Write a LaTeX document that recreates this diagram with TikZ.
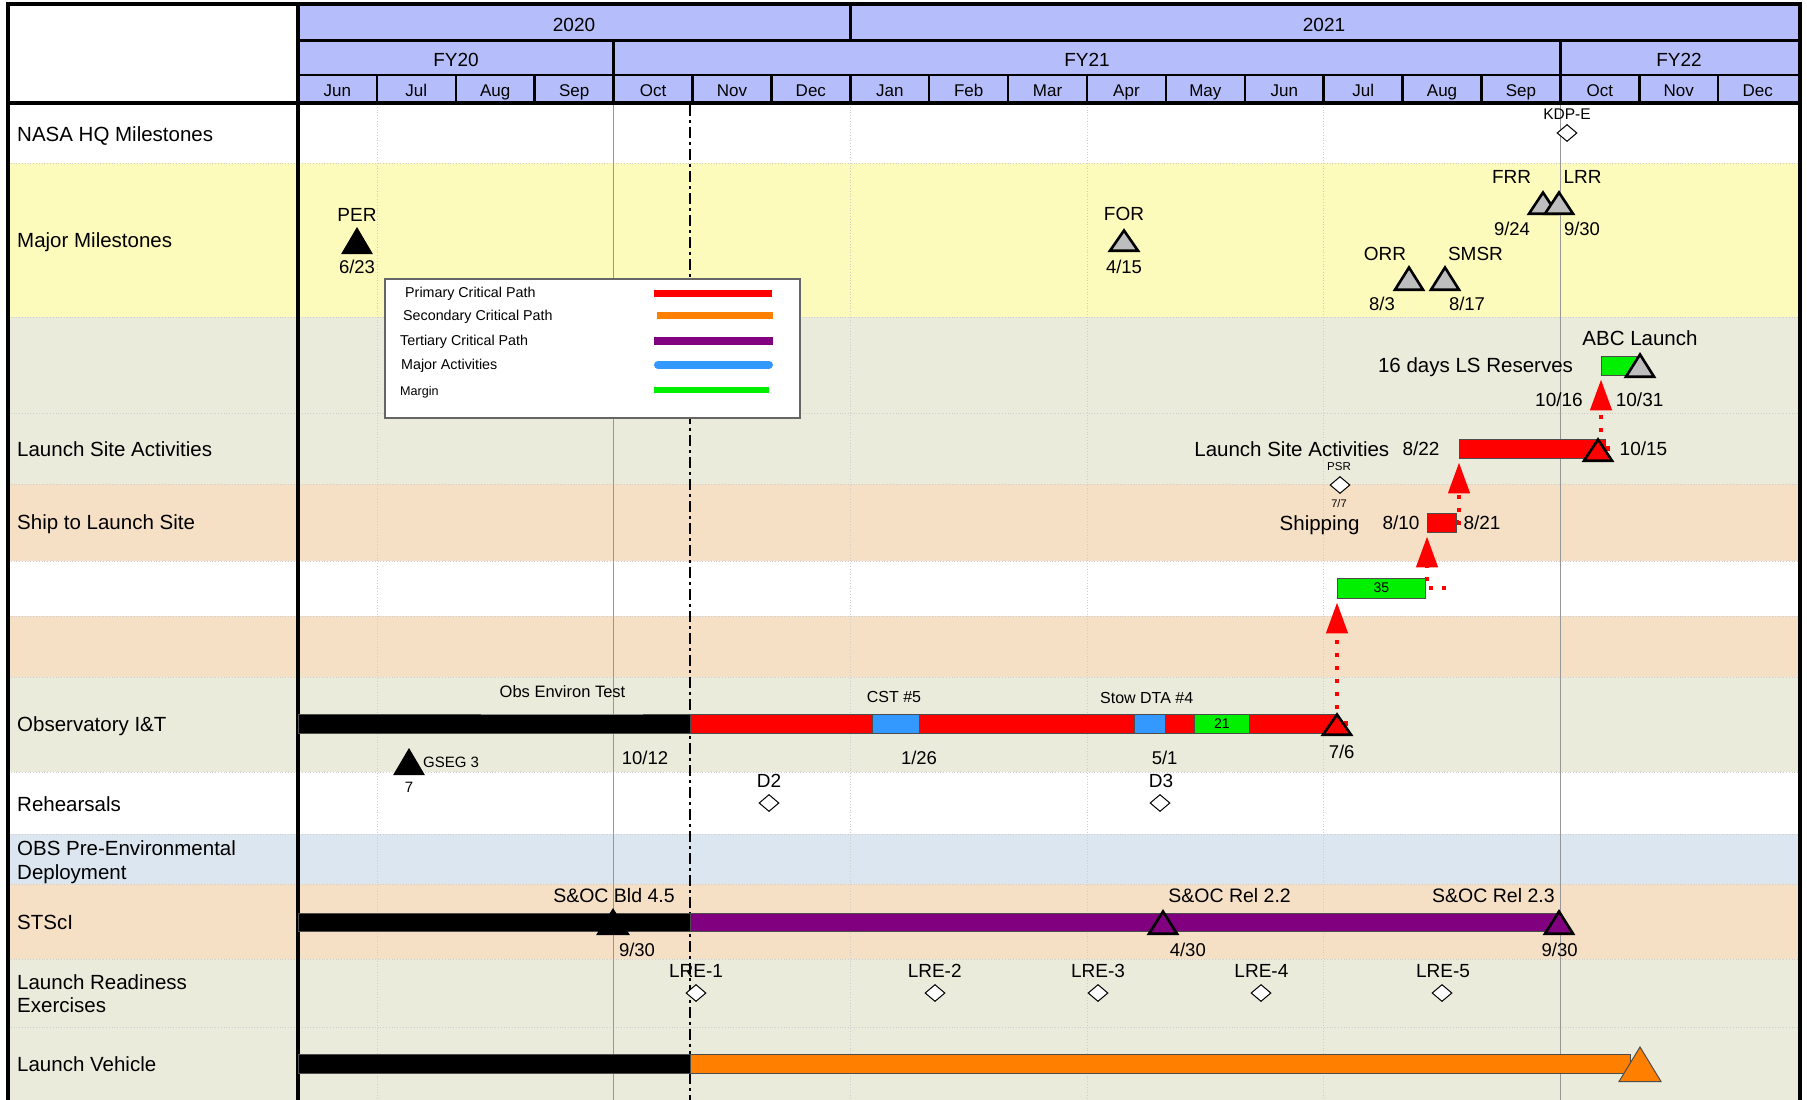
\documentclass[tikz,border=0pt]{standalone}
\usepackage{fontspec}
\setmainfont{Liberation Sans}
\usetikzlibrary{arrows.meta,shapes.geometric}
\definecolor{hdr}{RGB}{181,190,250}
\definecolor{rowyel}{RGB}{253,251,187}
\definecolor{rowgry}{RGB}{235,235,220}
\definecolor{rowpch}{RGB}{245,224,198}
\definecolor{rowblu}{RGB}{220,230,240}
\definecolor{cpred}{RGB}{255,0,0}
\definecolor{cporg}{RGB}{255,128,0}
\definecolor{cppur}{RGB}{128,0,128}
\definecolor{actblu}{RGB}{51,153,255}
\definecolor{mgrn}{RGB}{0,240,0}
\definecolor{msgry}{RGB}{190,190,190}
\definecolor{gridln}{RGB}{150,150,150}
\definecolor{gridlt}{RGB}{205,205,205}
% name, x, apex y, base y, half width, style
\newcommand\msTri[6]{%
  \path[#6] (#2,#3) -- ({#2+#5},#4) -- ({#2-#5},#4) -- cycle;
  \coordinate (#1) at (#2,{(#3+#4)/2});}
\begin{document}
\begin{tikzpicture}[x=1pt,y=-1pt,
  lab/.style={anchor=base,inner sep=0pt,font=\fontsize{#1}{#1}\selectfont,yshift={-0.358*#1}},
  labw/.style={lab=#1,anchor=base west},
  rowsep/.style={gridlt,dotted,line width=0.8pt},
  hline/.style={black,line width=2.5pt},
  today/.style={black,line width=2.5pt,dash pattern=on 11pt off 4pt on 3pt off 4pt},
  barbox/.style={draw=black!70,line width=0.8pt,inner sep=0pt,anchor=west,minimum height=19pt},
  dia/.style={diamond,draw=black,fill=white,line width=1pt,minimum width=20pt,minimum height=17pt,inner sep=0pt},
  crit/.style={cpred,line width=4.5pt,dash pattern=on 4pt off 9pt,-{Triangle[width=21pt,length=31pt]},shorten >=4pt},
  trig/.style={fill=msgry,draw=black,line width=2.6pt},
  trib/.style={fill=black,draw=black,line width=1pt},
  trir/.style={fill=cpred,draw=black,line width=2.6pt},
  trip/.style={fill=cppur,draw=black,line width=2.6pt},
  trio/.style={fill=cporg,draw=black!70,line width=1pt}]
\useasboundingbox (0,0) rectangle (1807,1100);
\fill[white] (0,0) rectangle (1807,1100);
% row backgrounds
\foreach \ya/\yb/\cl in {104/163/white,163/317/rowyel,317/413/rowgry,413/484/rowgry,484/561/rowpch,561/616/white,616/677/rowpch,677/772/rowgry,772/834/white,834/884/rowblu,884/959/rowpch,959/1027/rowgry,1027/1100/rowgry}
  {\fill[\cl] (8,\ya) rectangle (1800,\yb);}
\foreach \ya in {163,317,413,484,561,616,677,772,834,884,959,1027}
  {\draw[rowsep] (8,\ya) -- (1800,\ya);}
% quarter lines
\foreach \i in {1,7,10,13}{\draw[gridlt,dotted,line width=0.8pt] ({298+78.9*\i},104) -- ({298+78.9*\i},1100);}
\foreach \i in {4,16}{\draw[gridln,line width=1pt] ({298+78.9*\i},104) -- ({298+78.9*\i},1100);}
% header
\fill[hdr] (298,4) rectangle (1800,103);
\fill[white] (8,4) rectangle (298,103);
\foreach \i in {1,...,18}{\draw[hline] ({298+78.9*\i},75) -- ({298+78.9*\i},103);}
\draw[hline] ({298+78.9*4},40) -- ({298+78.9*4},75);
\draw[hline] ({298+78.9*16},40) -- ({298+78.9*16},75);
\draw[hline] ({298+78.9*7},4) -- ({298+78.9*7},40);
\draw[black,line width=3pt] (298,40) -- (1800,40);
\draw[hline] (298,75) -- (1800,75);
\draw[black,line width=4pt] (8,103) -- (1800,103);
\draw[black,line width=4pt] (298,3) -- (298,1102);
\draw[black,line width=4pt] (8,1102) -- (8,3.5) -- (1800,3.5) -- (1800,1102);
\node[lab=19] (y2020) at (574,24.5) {2020};
\node[lab=19] (y2021) at (1324,24.5) {2021};
\node[lab=19] (fy20) at (456,59.5) {FY20};
\node[lab=19] (fy21) at (1087,59.5) {FY21};
\node[lab=19] (fy22) at (1679,59.5) {FY22};
\foreach \m [count=\i from 0] in {Jun,Jul,Aug,Sep,Oct,Nov,Dec,Jan,Feb,Mar,Apr,May,Jun,Jul,Aug,Sep,Oct,Nov,Dec}
  {\node[lab=17] (mon\i) at ({298+78.9*(\i+0.5)},90.5) {\m};}
% row labels
\node[labw=20.5] (rl1) at (17,134) {NASA HQ Milestones};
\node[labw=20.5] (rl2) at (17,240.5) {Major Milestones};
\node[labw=20.5] (rl3) at (17,449) {Launch Site Activities};
\node[labw=20.5] (rl4) at (17,522.5) {Ship to Launch Site};
\node[labw=20.5] (rl5) at (17,724) {Observatory I\&T};
\node[labw=20.5] (rl6) at (17,803.7) {Rehearsals};
\node[labw=20.5] (rl7a) at (17,848.3) {OBS Pre-Environmental};
\node[labw=20.5] (rl7b) at (17,871.7) {Deployment};
\node[labw=20.5] (rl8) at (17,922) {STScI};
\node[labw=20.5] (rl9a) at (17,981.7) {Launch Readiness};
\node[labw=20.5] (rl9b) at (17,1005) {Exercises};
\node[labw=20.5] (rl10) at (17,1064) {Launch Vehicle};
% today line
\draw[today] (690,105) -- (690,1100);
% bars
\node[barbox,fill=black,minimum width=392pt] (obsBlk) at (298,723.5) {};
\draw[black!45,line width=1pt] (481,714.3) -- (643,714.3);
\node[barbox,fill=cpred,minimum width=647pt] (obsRed) at (690,723.5) {};
\node[barbox,fill=actblu,minimum width=47pt] (cst5) at (872,723.5) {};
\node[barbox,fill=actblu,minimum width=31pt] (stow4) at (1134,723.5) {};
\node[barbox,fill=mgrn,minimum width=55pt,font=\fontsize{14}{14}\selectfont] (m21) at (1194,723.5) {21};
\node[barbox,fill=black,minimum width=392pt,minimum height=18pt] (stsBlk) at (298,922) {};
\node[barbox,fill=cppur,minimum width=869pt,minimum height=18pt] (stsPur) at (690,922) {};
\node[barbox,fill=black,minimum width=392pt] (lvBlk) at (298,1063.5) {};
\node[barbox,fill=cporg,minimum width=940pt] (lvOrg) at (690,1063.5) {};
\node[barbox,fill=cpred,minimum width=146pt] (lsaBar) at (1459,448.5) {};
\node[barbox,fill=cpred,minimum width=29pt] (shipBox) at (1427,522.5) {};
\node[barbox,fill=mgrn,minimum width=88pt,minimum height=20pt,font=\fontsize{14}{14}\selectfont] (m35) at (1337,588) {35};
\node[barbox,fill=mgrn,minimum width=35pt] (resBox) at (1601,365.5) {};
% connectors (critical path)
\coordinate (obsEnd) at (1337,723.5);
\coordinate (lsaEnd) at (1598,448.5);
\draw[crit] ([xshift=11pt]obsEnd) -- (obsEnd) -- (obsEnd |- m35.south);
\draw[crit] ([xshift=20pt]m35.east) -- (m35.east -| shipBox.south west) -- (shipBox.south west);
\draw[crit] (shipBox.east) -- (shipBox.east -| lsaBar.south west) -- (lsaBar.south west);
\draw[crit] ([xshift=12pt]lsaEnd) -- (lsaEnd -| resBox.south west) -- (resBox.south west);
% milestone triangles
\msTri{tPER}{357}{228}{253.5}{15}{trib}
\msTri{tFOR}{1124}{230.5}{250.7}{14}{trig}
\msTri{tORR}{1409}{267.5}{289.7}{14}{trig}
\msTri{tSMSR}{1445}{267.5}{289.7}{14}{trig}
\msTri{tFRR}{1543}{192.5}{213.7}{14}{trig}
\msTri{tLRR}{1559}{192.5}{213.7}{14}{trig}
\msTri{tABC}{1640}{354.5}{376.7}{14}{trig}
\msTri{tLSA}{1598}{439.5}{460.7}{14}{trir}
\msTri{tObs}{1337}{714.5}{734.7}{14}{trir}
\msTri{tGSEG}{409}{749}{774.5}{15}{trib}
\msTri{tBld}{613}{909}{934.5}{16}{trib}
\msTri{tRel22}{1163}{911.5}{933.7}{14}{trip}
\msTri{tRel23}{1559}{911.5}{933.7}{14}{trip}
\msTri{tLV}{1640}{1047}{1081.5}{21}{trio}
% diamonds
\node[dia] (dKDP) at (1567,133) {};
\node[dia] (dPSR) at (1340,485) {};
\node[dia] (dD2) at (769,803) {};
\node[dia] (dD3) at (1160,803) {};
\node[dia] (dL1) at (696,993) {};
\node[dia] (dL2) at (935,993) {};
\node[dia] (dL3) at (1098,993) {};
\node[dia] (dL4) at (1261,993) {};
\node[dia] (dL5) at (1442,993) {};
% milestone labels
\node[lab=15.5] (lKDP) at (1567,113.7) {KDP-E};
\node[lab=19] (lPER) at (357,215) {PER};
\node[lab=18.5] (dtPER) at (357,266.7) {6/23};
\node[lab=19] (lFOR) at (1124,213.3) {FOR};
\node[lab=18.5] (dtFOR) at (1124,267) {4/15};
\node[lab=19] (lORR) at (1385,253.3) {ORR};
\node[lab=18.5] (dtORR) at (1382,304) {8/3};
\node[lab=19] (lSMSR) at (1475.5,253.3) {SMSR};
\node[lab=18.5] (dtSMSR) at (1467,304) {8/17};
\node[lab=19] (lFRR) at (1511.6,176.7) {FRR};
\node[lab=18.5] (dtFRR) at (1512,228.7) {9/24};
\node[lab=19] (lLRR) at (1582.5,176.7) {LRR};
\node[lab=18.5] (dtLRR) at (1582,228.7) {9/30};
\node[lab=20.5] (lABC) at (1640,338) {ABC Launch};
\node[lab=20.5] (lRes) at (1475.5,365.5) {16 days LS Reserves};
\node[lab=19] (dtRes1) at (1559,400) {10/16};
\node[lab=19] (dtRes2) at (1639.6,400) {10/31};
\node[lab=20.5] (lLSA) at (1291.8,449) {Launch Site Activities};
\node[lab=19] (dtLSA1) at (1421,449) {8/22};
\node[lab=19] (dtLSA2) at (1643.5,449) {10/15};
\node[lab=11.5] (lPSR) at (1339,466.7) {PSR};
\node[lab=11] (dtPSR) at (1339,503.7) {7/7};
\node[lab=20.5] (lShip) at (1319.6,523) {Shipping};
\node[lab=19] (dtShip1) at (1401,523) {8/10};
\node[lab=19] (dtShip2) at (1482,523) {8/21};
\node[lab=16.5] (lObsEnv) at (562.5,692) {Obs Environ Test};
\node[lab=16] (lCST) at (894,697) {CST \#5};
\node[lab=16] (lStow) at (1146.7,697.5) {Stow DTA \#4};
\node[lab=18.5] (dtObs1) at (645,758) {10/12};
\node[lab=18.5] (dtObs2) at (919,758) {1/26};
\node[lab=18.5] (dtObs3) at (1164.6,758) {5/1};
\node[lab=18.5] (dtObs4) at (1341.6,751.5) {7/6};
\node[labw=15] (lGSEG) at (423,762) {GSEG 3};
\node[lab=15] (dtGSEG) at (409,786.7) {7};
\node[lab=19] (lD2) at (769,780.5) {D2};
\node[lab=19] (lD3) at (1161,780.5) {D3};
\node[lab=19.5] (lBld) at (614,896) {S\&OC Bld 4.5};
\node[lab=18.5] (dtBld) at (637,949.5) {9/30};
\node[lab=19.5] (lRel22) at (1229.6,896) {S\&OC Rel 2.2};
\node[lab=18.5] (dtRel22) at (1187.8,949.5) {4/30};
\node[lab=19.5] (lRel23) at (1493.4,896) {S\&OC Rel 2.3};
\node[lab=18.5] (dtRel23) at (1559.6,949.5) {9/30};
\node[lab=19] (lL1) at (696,971) {LRE-1};
\node[lab=19] (lL2) at (934.7,971) {LRE-2};
\node[lab=19] (lL3) at (1098,971) {LRE-3};
\node[lab=19] (lL4) at (1261.4,971) {LRE-4};
\node[lab=19] (lL5) at (1443,971) {LRE-5};
% legend
\node[draw=black!60,fill=white,line width=1.8pt,minimum width=415pt,minimum height=139pt,anchor=north west,inner sep=0pt] (legend) at (384,278) {};
\node[labw=14.3] (lg1) at (405,292.5) {Primary Critical Path};
\node[labw=14.3] (lg2) at (403,315) {Secondary Critical Path};
\node[labw=14.3] (lg3) at (400,340) {Tertiary Critical Path};
\node[labw=14.3] (lg4) at (401,364) {Major Activities};
\node[labw=12.6] (lg5) at (400,391) {Margin};
\draw[cpred,line width=7pt] (654,293) -- (772,293);
\draw[cporg,line width=7pt] (657,315) -- (773,315);
\draw[cppur,line width=8pt] (654,341) -- (773,341);
\draw[actblu,line width=8pt,line cap=round] (658,365) -- (769,365);
\draw[mgrn,line width=6pt] (654,390) -- (769,390);
\end{tikzpicture}
\end{document}
